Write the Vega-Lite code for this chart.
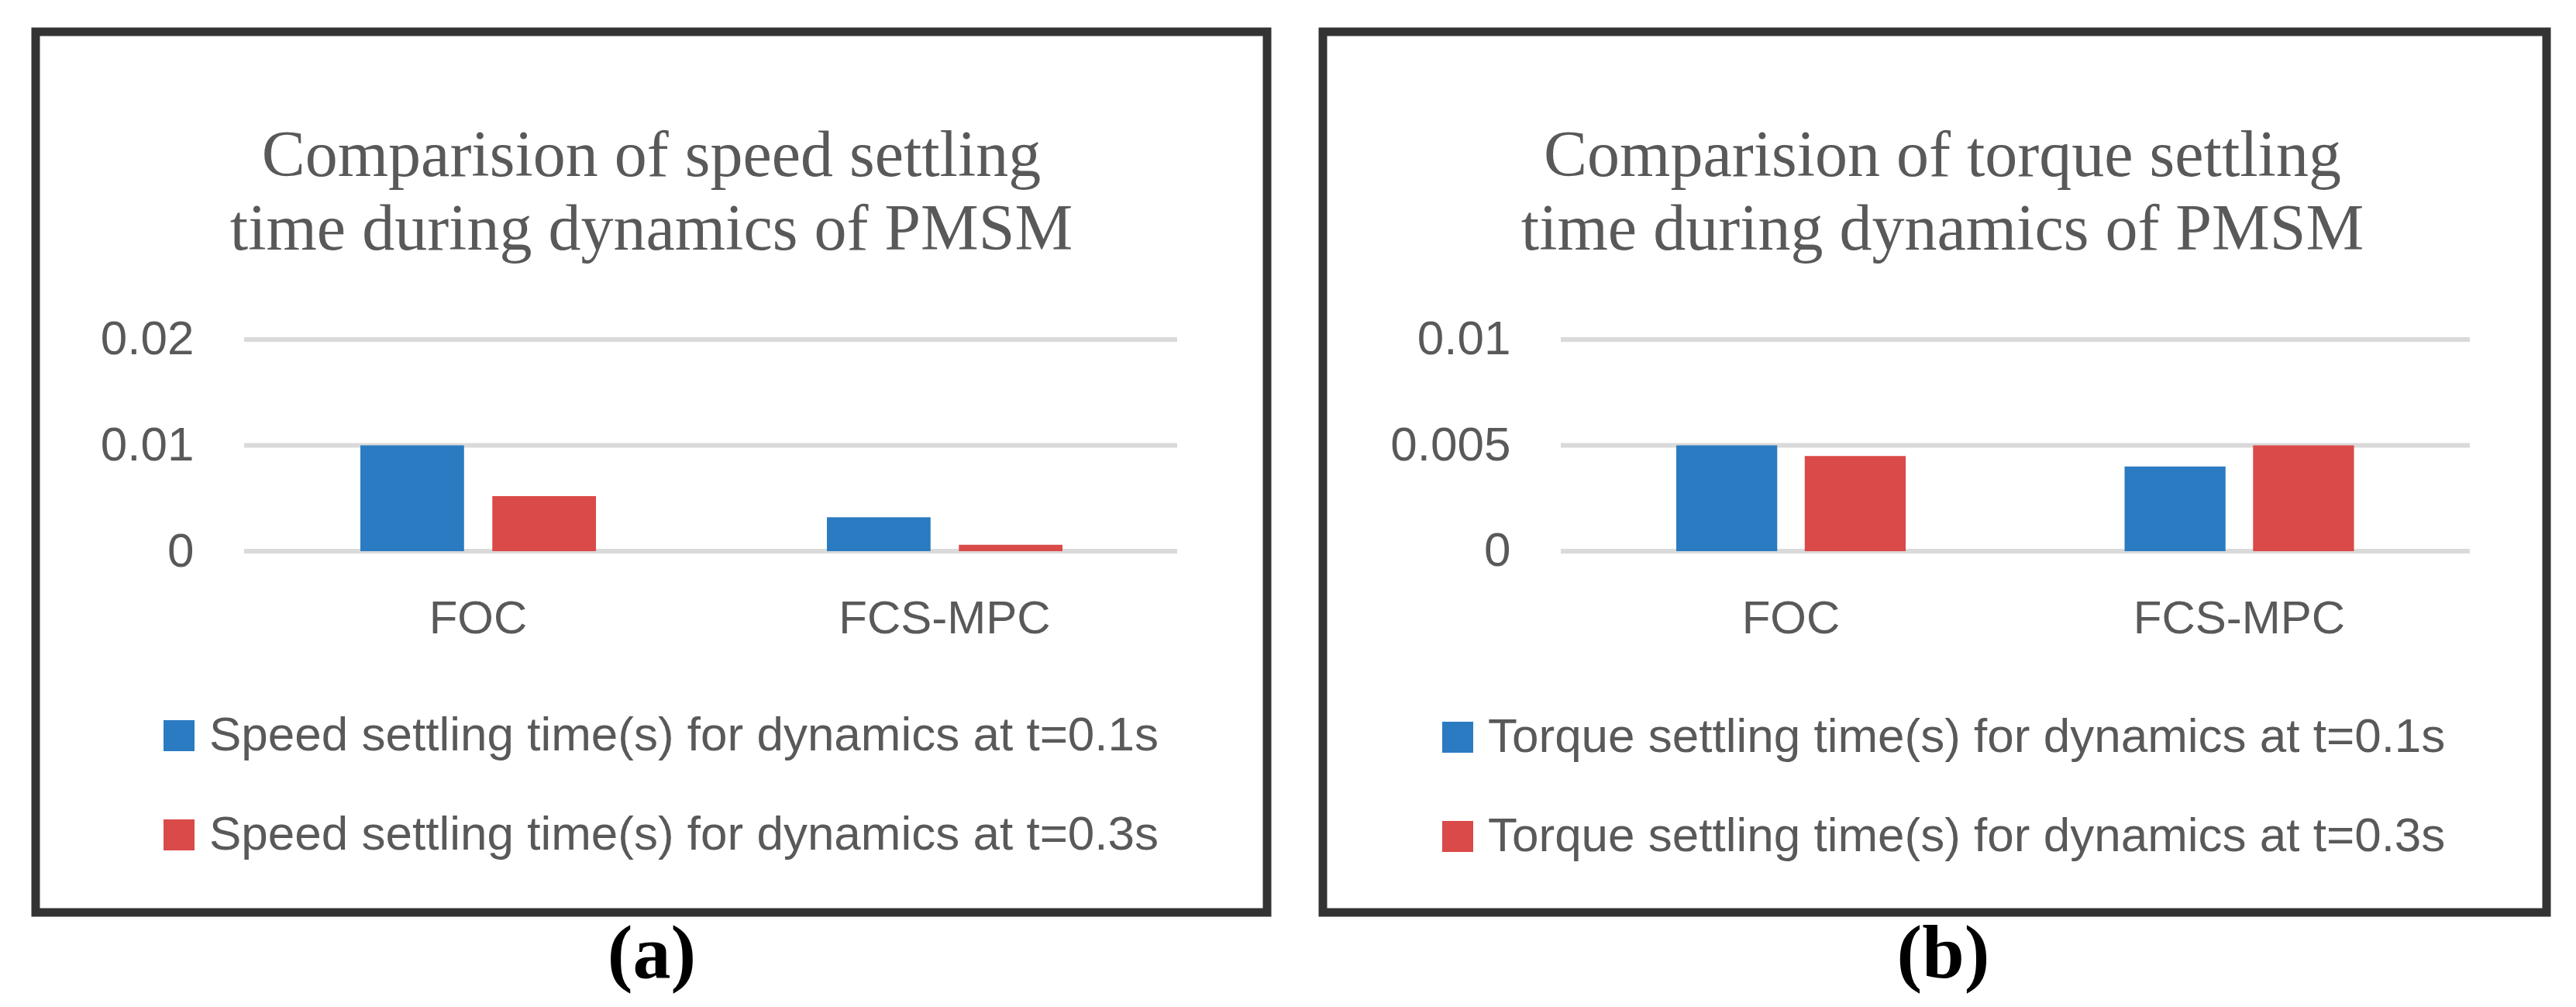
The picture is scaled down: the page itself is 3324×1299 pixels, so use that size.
{
  "$schema": "https://vega.github.io/schema/vega-lite/v6.json",
  "background": "white",
  "padding": {"left": 40, "top": 35, "right": 0, "bottom": 0},
  "spacing": 60,
  "resolve": {"scale": {"color": "independent"}, "legend": {"color": "independent"}},
  "config": {
    "view": {"stroke": "#333333", "strokeWidth": 11},
    "axis": {"labelFont": "Liberation Sans", "labelColor": "#595959", "labelFontSize": 62, "labelLimit": 1000},
    "legend": {
      "symbolType": "square", "symbolSize": 1600, "symbolStrokeWidth": 0,
      "labelFont": "Liberation Sans", "labelFontSize": 62, "labelColor": "#595959",
      "labelOffset": 8, "rowPadding": 66, "padding": 0, "labelLimit": 3000
    }
  },
  "hconcat": [
    {
      "name": "L",
      "width": 1589,
      "height": 1136,
      "title": {
        "text": ["Comparision of speed settling", "time during dynamics of PMSM"],
        "anchor": "middle", "frame": "group", "offset": -365, "baseline": "alphabetic",
        "lineHeight": 95, "font": "Liberation Serif", "fontSize": 84, "fontWeight": "normal", "color": "#595959"
      },
      "data": {"values": [
        {"method": "FOC", "series": "Speed settling time(s) for dynamics at t=0.1s", "value": 0.01},
        {"method": "FOC", "series": "Speed settling time(s) for dynamics at t=0.3s", "value": 0.0052},
        {"method": "FCS-MPC", "series": "Speed settling time(s) for dynamics at t=0.1s", "value": 0.0032},
        {"method": "FCS-MPC", "series": "Speed settling time(s) for dynamics at t=0.3s", "value": 0.0006}
      ]},
      "layer": [
        {
          "data": {"values": [{"tick": 0}, {"tick": 0.01}, {"tick": 0.02}]},
          "mark": {"type": "rule", "color": "#DADADA", "strokeWidth": 6},
          "encoding": {
            "x": {"datum": "FOC", "type": "nominal", "bandPosition": -0.4934,
                  "scale": {"type": "band", "domain": ["FOC", "FCS-MPC"], "paddingInner": 0.495, "paddingOuter": 0.5673, "align": 0.6135},
                  "axis": {"orient": "bottom", "offset": -361, "domain": false, "ticks": false, "tickSize": 0,
                           "labelPadding": 0, "labelBaseline": "alphabetic", "labelAngle": 0, "labelFontSize": 60,
                           "title": "(a)", "titleFont": "Liberation Serif", "titleFontWeight": "bold", "titleFontSize": 98,
                           "titleColor": "#000000", "titleY": 444, "titleBaseline": "alphabetic"}},
            "x2": {"datum": "FCS-MPC", "bandPosition": 1.4868},
            "y": {"field": "tick", "type": "quantitative",
                  "scale": {"domain": [-0.034139, 0.049084], "nice": false, "zero": false},
                  "axis": {"orient": "left", "offset": -204, "grid": false, "domain": false, "ticks": false, "tickSize": 0,
                           "labelPadding": 0, "values": [0, 0.01, 0.02], "format": "~g", "title": null}}
          }
        },
        {
          "mark": {"type": "bar", "width": {"band": 0.44},
                   "xOffset": {"expr": "(indexof(datum.series, 't=0.1s') >= 0 ? -0.28 : 0.28) * bandwidth('L_x')"}},
          "encoding": {
            "x": {"field": "method", "type": "nominal",
                  "scale": {"type": "band", "domain": ["FOC", "FCS-MPC"], "paddingInner": 0.495, "paddingOuter": 0.5673, "align": 0.6135},
                  "axis": {"orient": "bottom", "offset": -361, "domain": false, "ticks": false, "tickSize": 0,
                           "labelPadding": 0, "labelBaseline": "alphabetic", "labelAngle": 0, "labelFontSize": 60,
                           "title": "(a)", "titleFont": "Liberation Serif", "titleFontWeight": "bold", "titleFontSize": 98,
                           "titleColor": "#000000", "titleY": 444, "titleBaseline": "alphabetic"}},
            "y": {"field": "value", "type": "quantitative", "stack": null,
                  "scale": {"domain": [-0.034139, 0.049084], "nice": false, "zero": false},
                  "axis": {"orient": "left", "offset": -204, "grid": false, "domain": false, "ticks": false, "tickSize": 0,
                           "labelPadding": 0, "values": [0, 0.01, 0.02], "format": "~g", "title": null}},
            "y2": {"datum": 0},
            "color": {"field": "series", "type": "nominal",
                      "scale": {"domain": ["Speed settling time(s) for dynamics at t=0.1s", "Speed settling time(s) for dynamics at t=0.3s"],
                                "range": ["#2B7BC2", "#D94A48"]},
                      "legend": {"orient": "none", "legendX": 154, "legendY": 877, "title": null}}
          }
        }
      ]
    },
    {
      "name": "R",
      "width": 1579,
      "height": 1136,
      "title": {
        "text": ["Comparision of torque settling", "time during dynamics of PMSM"],
        "anchor": "middle", "frame": "group", "offset": -365, "baseline": "alphabetic", "dx": 10,
        "lineHeight": 95, "font": "Liberation Serif", "fontSize": 84, "fontWeight": "normal", "color": "#595959"
      },
      "data": {"values": [
        {"method": "FOC", "series": "Torque settling time(s) for dynamics at t=0.1s", "value": 0.005},
        {"method": "FOC", "series": "Torque settling time(s) for dynamics at t=0.3s", "value": 0.0045},
        {"method": "FCS-MPC", "series": "Torque settling time(s) for dynamics at t=0.1s", "value": 0.004},
        {"method": "FCS-MPC", "series": "Torque settling time(s) for dynamics at t=0.3s", "value": 0.005}
      ]},
      "layer": [
        {
          "data": {"values": [{"tick": 0}, {"tick": 0.005}, {"tick": 0.01}]},
          "mark": {"type": "rule", "color": "#DADADA", "strokeWidth": 6},
          "encoding": {
            "x": {"datum": "FOC", "type": "nominal", "bandPosition": -0.5034,
                  "scale": {"type": "band", "domain": ["FOC", "FCS-MPC"], "paddingInner": 0.4883, "paddingOuter": 0.6089, "align": 0.6473},
                  "axis": {"orient": "bottom", "offset": -361, "domain": false, "ticks": false, "tickSize": 0,
                           "labelPadding": 0, "labelBaseline": "alphabetic", "labelAngle": 0, "labelFontSize": 60,
                           "title": "(b)", "titleFont": "Liberation Serif", "titleFontWeight": "bold", "titleFontSize": 98,
                           "titleColor": "#000000", "titleY": 444, "titleX": 800, "titleBaseline": "alphabetic"}},
            "x2": {"datum": "FCS-MPC", "bandPosition": 1.505},
            "y": {"field": "tick", "type": "quantitative",
                  "scale": {"domain": [-0.0170696, 0.024542], "nice": false, "zero": false},
                  "axis": {"orient": "left", "offset": -242, "grid": false, "domain": false, "ticks": false, "tickSize": 0,
                           "labelPadding": 0, "values": [0, 0.005, 0.01], "format": "~g", "title": null}}
          }
        },
        {
          "mark": {"type": "bar", "width": {"band": 0.44},
                   "xOffset": {"expr": "(indexof(datum.series, 't=0.1s') >= 0 ? -0.28 : 0.28) * bandwidth('R_x')"}},
          "encoding": {
            "x": {"field": "method", "type": "nominal",
                  "scale": {"type": "band", "domain": ["FOC", "FCS-MPC"], "paddingInner": 0.4883, "paddingOuter": 0.6089, "align": 0.6473},
                  "axis": {"orient": "bottom", "offset": -361, "domain": false, "ticks": false, "tickSize": 0,
                           "labelPadding": 0, "labelBaseline": "alphabetic", "labelAngle": 0, "labelFontSize": 60,
                           "title": "(b)", "titleFont": "Liberation Serif", "titleFontWeight": "bold", "titleFontSize": 98,
                           "titleColor": "#000000", "titleY": 444, "titleX": 800, "titleBaseline": "alphabetic"}},
            "y": {"field": "value", "type": "quantitative", "stack": null,
                  "scale": {"domain": [-0.0170696, 0.024542], "nice": false, "zero": false},
                  "axis": {"orient": "left", "offset": -242, "grid": false, "domain": false, "ticks": false, "tickSize": 0,
                           "labelPadding": 0, "values": [0, 0.005, 0.01], "format": "~g", "title": null}},
            "y2": {"datum": 0},
            "color": {"field": "series", "type": "nominal",
                      "scale": {"domain": ["Torque settling time(s) for dynamics at t=0.1s", "Torque settling time(s) for dynamics at t=0.3s"],
                                "range": ["#2B7BC2", "#D94A48"]},
                      "legend": {"orient": "none", "legendX": 143, "legendY": 879, "title": null}}
          }
        }
      ]
    }
  ]
}
